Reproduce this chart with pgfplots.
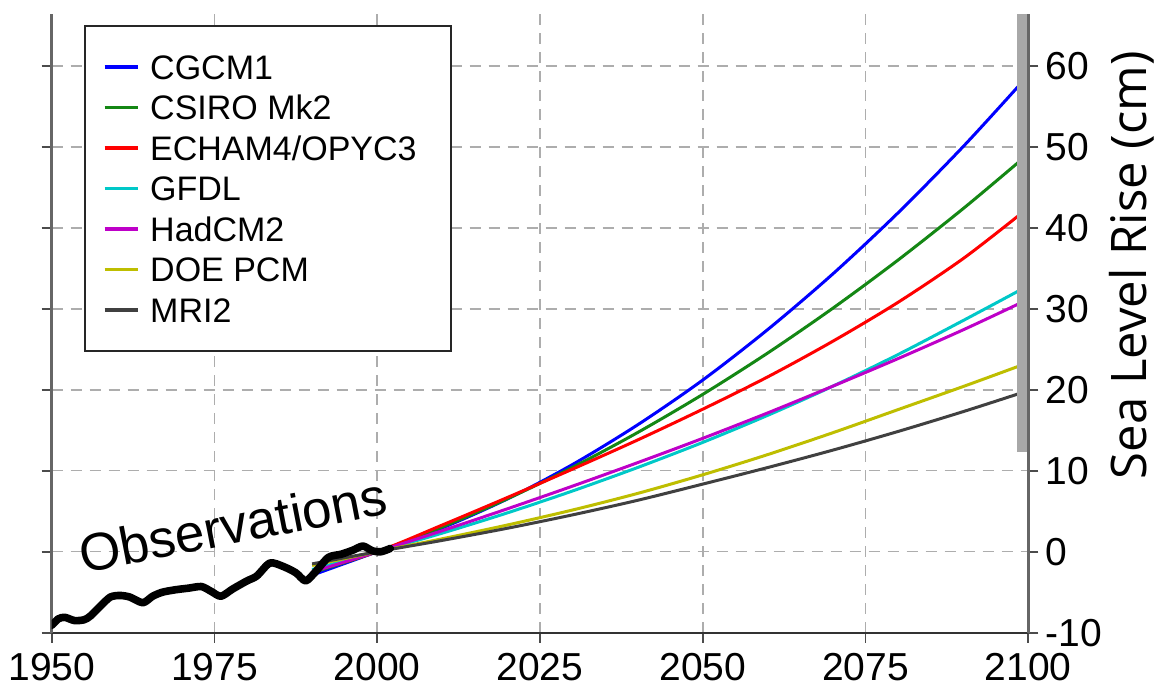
\documentclass[border=0pt]{standalone}
\usepackage{fontspec}
\setmainfont{Liberation Sans}
\newfontfamily\labfont{Open Sans}
\usepackage{pgfplots}
\pgfplotsset{compat=1.18}

\definecolor{cgcm}{RGB}{0,0,255}
\definecolor{csiro}{RGB}{20,135,20}
\definecolor{echam}{RGB}{255,0,0}
\definecolor{gfdl}{RGB}{0,200,200}
\definecolor{hadcm}{RGB}{190,0,200}
\definecolor{doe}{RGB}{190,190,0}
\definecolor{mri}{RGB}{64,64,64}
\definecolor{bargray}{RGB}{168,168,168}

\begin{document}
\begin{tikzpicture}
\begin{axis}[
  at={(0pt,0pt)}, anchor=south west,
  scale only axis, width=488.3pt, height=309.35pt,
  xmin=1950, xmax=2100, ymin=-10, ymax=66.4,
  xtick={1950,1975,2000,2025,2050,2075,2100},
  ytick={-10,0,10,20,30,40,50,60},
  axis x line*=bottom, axis y line*=box,
  yticklabel pos=right,
  tick align=outside, major tick length=5pt,
  tick style={black!70, line width=0.9pt},
  x axis line style={black!80, line width=1.1pt},
  y axis line style={black!60, line width=1.2pt},
  grid=major,
  grid style={black!32, line width=0.75pt, dash pattern=on 5.5pt off 4pt},
  /pgf/number format/1000 sep={},
  /pgf/number format/assume math mode=true,
  ticklabel style={font=\fontsize{19.5}{21}\selectfont},
  yticklabel style={inner sep=0pt, anchor=west, xshift=3.5pt},
  xticklabel style={inner sep=0pt, anchor=north, yshift=-5pt},
  ylabel={Sea Level Rise (cm)},
  every axis y label/.style={at={(rel axis cs:1,0.594)}, xshift=59pt, rotate=90, anchor=base, font=\labfont\fontsize{24.5}{28}\selectfont},
  legend cell align=left,
  legend image code/.code={\draw[#1, line width=1.6pt] (0pt,0pt) -- (16.5pt,0pt); \path (22pt,0pt);},
  legend style={at={(axis description cs:0.0331,0.9822)}, anchor=north west,
    draw=black!85, line width=1.1pt, fill=white,
    font=\fontsize{17}{20}\selectfont,
    inner xsep=9pt, inner ysep=12.5pt, row sep=4.35pt,
    nodes={inner sep=0pt, anchor=west, text height=14.05pt, text depth=1.85pt}},
]

\addplot[cgcm, line width=1.5pt, smooth] coordinates {
(1990,-2.9) (2000,0) (2010,2.94) (2020,6.52) (2030,10.77) (2040,15.67) (2050,21.2)
(2060,27.45) (2070,34.32) (2080,41.85) (2090,50.03) (2098.5,57.5)};
\addlegendentry{CGCM1}

\addplot[csiro, line width=1.5pt, smooth] coordinates {
(1990,-2.6) (2000,0) (2010,3.06) (2020,6.54) (2030,10.42) (2040,14.72) (2050,19.43)
(2060,24.55) (2070,30.08) (2080,36.02) (2090,42.37) (2098.5,48.1)};
\addlegendentry{CSIRO Mk2}

\addplot[echam, line width=1.5pt, smooth] coordinates {
(1990,-2.4) (2000,0) (2010,3.3) (2020,6.7) (2030,10.2) (2040,13.8) (2050,17.6)
(2060,21.6) (2070,26.0) (2080,30.8) (2090,36.2) (2098.5,41.5)};
\addlegendentry{ECHAM4/OPYC3\hspace*{8pt}}

\addplot[gfdl, line width=1.5pt, smooth] coordinates {
(1990,-2.2) (2000,0) (2010,2.3) (2020,4.8) (2030,7.5) (2040,10.4) (2050,13.5)
(2060,16.85) (2070,20.45) (2080,24.35) (2090,28.55) (2098.5,32.2)};
\addlegendentry{GFDL}

\addplot[hadcm, line width=1.5pt, smooth] coordinates {
(1990,-2.5) (2000,0) (2010,2.6) (2020,5.3) (2030,8.1) (2040,11.0) (2050,14.0)
(2060,17.15) (2070,20.45) (2080,23.85) (2090,27.4) (2098.5,30.6)};
\addlegendentry{HadCM2}

\addplot[doe, line width=1.5pt, smooth] coordinates {
(1990,-1.7) (2000,0) (2010,1.6) (2020,3.3) (2030,5.15) (2040,7.2) (2050,9.5)
(2060,12.0) (2070,14.7) (2080,17.55) (2090,20.4) (2098.5,22.9)};
\addlegendentry{DOE PCM}

\addplot[mri, line width=1.5pt, smooth] coordinates {
(1990,-1.5) (2000,0) (2010,1.4) (2020,2.9) (2030,4.55) (2040,6.35) (2050,8.35)
(2060,10.4) (2070,12.55) (2080,14.85) (2090,17.3) (2098.5,19.5)};
\addlegendentry{MRI2}

% observations
\addplot[forget plot, black, line width=3.8pt, line join=round, line cap=round, smooth, tension=0.45] coordinates {
(1950.0,-9.1) (1951.0,-8.3) (1952.0,-8.1) (1953.5,-8.5) (1955.0,-8.4) (1956.0,-7.9)
(1957.5,-6.7) (1959.0,-5.6) (1960.5,-5.4) (1962.0,-5.6) (1964.0,-6.3) (1965.5,-5.5)
(1967.0,-5.0) (1969.0,-4.7) (1971.0,-4.5) (1973.0,-4.3) (1974.5,-4.9) (1976.0,-5.5)
(1977.8,-4.6) (1980.0,-3.6) (1981.5,-3.0) (1983.5,-1.4) (1985.5,-1.8) (1987.5,-2.6)
(1989.0,-3.6) (1990.5,-2.5) (1992.5,-0.7) (1994.5,-0.3) (1996.3,0.2) (1997.8,0.7)
(1999.3,0.1) (2000.6,0.0) (2002.0,0.4)};

% range bar at 2100
\addplot[forget plot, bargray, line width=5pt] coordinates {(2099.1,12.3) (2099.1,66.4)};

\node[rotate=11, font=\fontsize{26.5}{30}\selectfont] at (axis cs:1977.8,3.3) {Observations};
\end{axis}
\pgfresetboundingbox
\path[use as bounding box] (-25.85pt,-29.15pt) rectangle (553.15pt,316.35pt);
\end{tikzpicture}
\end{document}
